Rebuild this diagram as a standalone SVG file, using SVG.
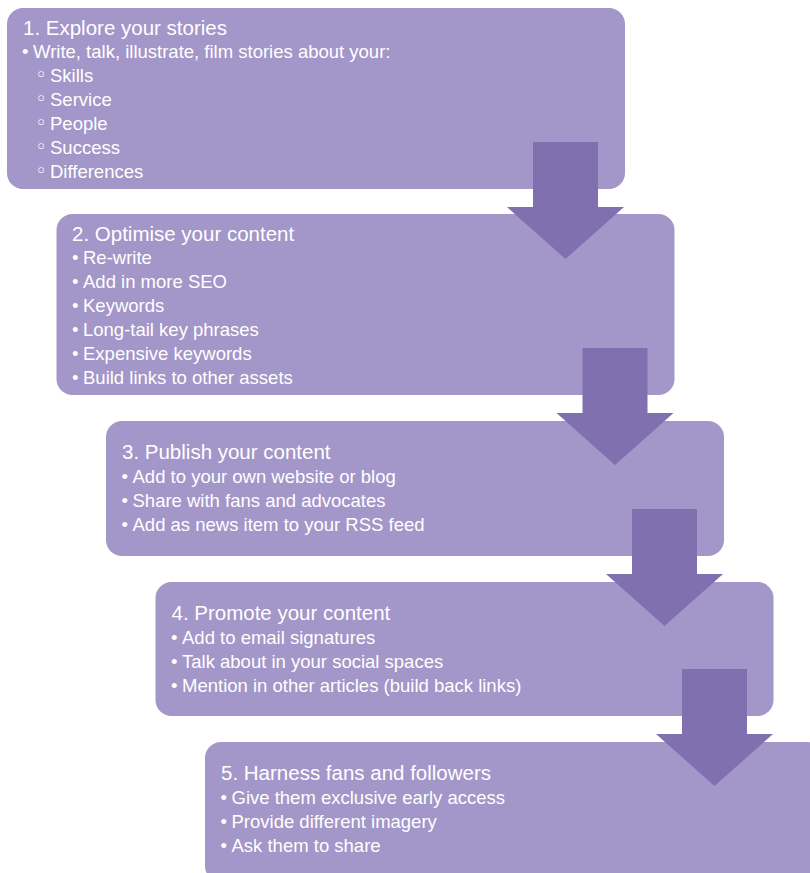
<svg xmlns="http://www.w3.org/2000/svg" width="810" height="873" viewBox="0 0 810 873">
<style>
.box{fill:#A396C8}
.arr{fill:#8170B0}
text{font-family:"Liberation Sans",Arial,sans-serif;fill:#ffffff}
.t{font-size:20.5px}
.i{font-size:18.5px}
.s{font-family:"DejaVu Sans",sans-serif;font-size:21px}
</style>
<rect width="810" height="873" fill="#ffffff"/>
<g id="node1">
<rect class="box" x="7" y="8" width="618" height="181" rx="16"/>
<text class="t" x="23" y="34.5">1. Explore your stories</text>
<text class="i" y="57.5"><tspan x="22">•</tspan><tspan x="33">Write, talk, illustrate, film stories about your:</tspan></text>
<text class="s" x="35" y="82">◦</text><text class="i" x="50" y="81.5">Skills</text>
<text class="s" x="35" y="106">◦</text><text class="i" x="50" y="105.5">Service</text>
<text class="s" x="35" y="130">◦</text><text class="i" x="50" y="129.5">People</text>
<text class="s" x="35" y="154">◦</text><text class="i" x="50" y="153.5">Success</text>
<text class="s" x="35" y="178">◦</text><text class="i" x="50" y="177.5">Differences</text>
</g>
<g id="node2">
<rect class="box" x="56.5" y="214" width="618" height="181" rx="16"/>
<text class="t" x="72" y="240.5">2. Optimise your content</text>
<text class="i" y="263.5"><tspan x="72">•</tspan><tspan x="83">Re-write</tspan></text>
<text class="i" y="287.5"><tspan x="72">•</tspan><tspan x="83">Add in more SEO</tspan></text>
<text class="i" y="311.5"><tspan x="72">•</tspan><tspan x="83">Keywords</tspan></text>
<text class="i" y="335.5"><tspan x="72">•</tspan><tspan x="83">Long-tail key phrases</tspan></text>
<text class="i" y="359.5"><tspan x="72">•</tspan><tspan x="83">Expensive keywords</tspan></text>
<text class="i" y="383.5"><tspan x="72">•</tspan><tspan x="83">Build links to other assets</tspan></text>
</g>
<g id="node3">
<rect class="box" x="106" y="421" width="618" height="135" rx="16"/>
<text class="t" x="122" y="458.5">3. Publish your content</text>
<text class="i" y="482.5"><tspan x="121.5">•</tspan><tspan x="132.5">Add to your own website or blog</tspan></text>
<text class="i" y="506.5"><tspan x="121.5">•</tspan><tspan x="132.5">Share with fans and advocates</tspan></text>
<text class="i" y="530.5"><tspan x="121.5">•</tspan><tspan x="132.5">Add as news item to your RSS feed</tspan></text>
</g>
<g id="node4">
<rect class="box" x="155.5" y="582" width="618" height="134" rx="16"/>
<text class="t" x="171.5" y="619.5">4. Promote your content</text>
<text class="i" y="643.5"><tspan x="171">•</tspan><tspan x="182">Add to email signatures</tspan></text>
<text class="i" y="667.5"><tspan x="171">•</tspan><tspan x="182">Talk about in your social spaces</tspan></text>
<text class="i" y="691.5"><tspan x="171">•</tspan><tspan x="182">Mention in other articles (build back links)</tspan></text>
</g>
<g id="node5">
<rect class="box" x="205" y="742" width="618" height="140" rx="16"/>
<text class="t" x="221" y="780">5. Harness fans and followers</text>
<text class="i" y="804"><tspan x="220.5">•</tspan><tspan x="231.5">Give them exclusive early access</tspan></text>
<text class="i" y="828"><tspan x="220.5">•</tspan><tspan x="231.5">Provide different imagery</tspan></text>
<text class="i" y="852"><tspan x="220.5">•</tspan><tspan x="231.5">Ask them to share</tspan></text>
</g>
<g id="connectors">
<polygon class="arr" points="533,142 598,142 598,207 624,207 565.5,259 507,207 533,207"/>
<polygon class="arr" points="582.5,348 647.5,348 647.5,413 673.5,413 615,465 556.5,413 582.5,413"/>
<polygon class="arr" points="632,509 697,509 697,574 723,574 664.5,626 606,574 632,574"/>
<polygon class="arr" points="682,669 747,669 747,734 773,734 714.5,786 656,734 682,734"/>
</g>
</svg>
